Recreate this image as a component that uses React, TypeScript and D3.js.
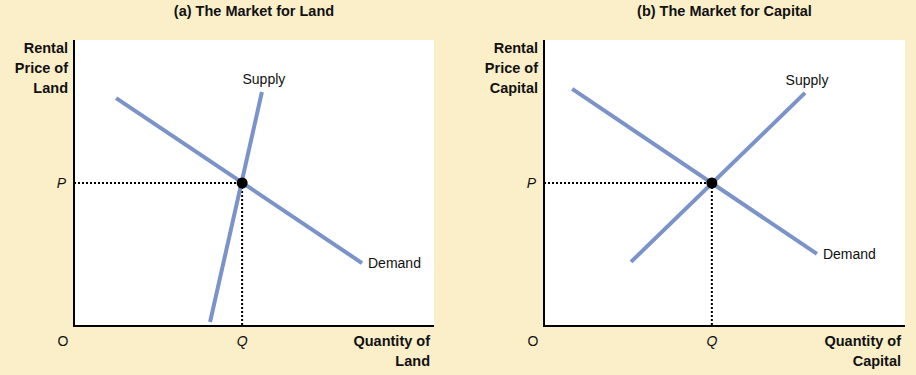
import * as d3 from 'd3';

// value space: 0..100 on both axes
const panelTitles = ['(a) The Market for Land', '(b) The Market for Capital'];
const yAxisLabels = [['Rental', 'Price of', 'Land'], ['Rental', 'Price of', 'Capital']];
const xAxisLabels = [['Quantity of', 'Land'], ['Quantity of', 'Capital']];

const landDemand: [number, number][] = [[11.7, 79.7], [80, 22]];
const landSupply: [number, number][] = [[37.8, 1.4], [52.2, 81.8]];
const landEq: [number, number] = [46.7, 50];

const capitalDemand: [number, number][] = [[7.8, 82.9], [75.6, 25.2]];
const capitalSupply: [number, number][] = [[24.1, 22.4], [72.3, 81.5]];
const capitalEq: [number, number] = [46.5, 50];

const W = 916;
const H = 375;
const BG = '#fbefc9';
const LINE = '#7b93c9';

interface PanelProps {
  idx: number;
  left: number;
  right: number;
  demand: [number, number][];
  supply: [number, number][];
  eq: [number, number];
}

function Panel({ idx, left, right, demand, supply, eq }: PanelProps) {
  const top = 40;
  const bottom = 326;
  const x = d3.scaleLinear().domain([0, 100]).range([left, right]);
  const y = d3.scaleLinear().domain([0, 100]).range([bottom, top]);
  const line = d3.line<[number, number]>().x(d => x(d[0])).y(d => y(d[1]));

  const ex = x(eq[0]);
  const ey = y(eq[1]);
  const supplyTop = supply[1];
  const demandEnd = demand[1];

  return (
    <g fontFamily="'Liberation Sans', Arial, sans-serif">
      <text x={(left + right) / 2} y={16} textAnchor="middle" fontWeight="bold" fontSize={14.5} fill="#111">
        {panelTitles[idx]}
      </text>
      <rect x={left} y={top} width={right - left} height={bottom - top} fill="#fff" />

      {yAxisLabels[idx].map((t, i) => (
        <text key={t} x={left - 6} y={53 + i * 20} textAnchor="end" fontWeight="bold" fontSize={14.5} fill="#111">
          {t}
        </text>
      ))}
      {xAxisLabels[idx].map((t, i) => (
        <text key={t} x={right - 4} y={346 + i * 20} textAnchor="end" fontWeight="bold" fontSize={14.5} fill="#111">
          {t}
        </text>
      ))}

      {/* dotted guides */}
      <line x1={left} x2={ex} y1={ey} y2={ey} stroke="#000" strokeWidth={2} strokeDasharray="2,2" />
      <line x1={ex} x2={ex} y1={ey} y2={bottom} stroke="#000" strokeWidth={2} strokeDasharray="2,2" />

      <path d={line(demand) ?? ''} stroke={LINE} strokeWidth={4} fill="none" />
      <path d={line(supply) ?? ''} stroke={LINE} strokeWidth={4} fill="none" />
      <circle cx={ex} cy={ey} r={5.5} fill="#000" />

      {/* axes */}
      <line x1={left} x2={left} y1={top} y2={bottom + 1} stroke="#000" strokeWidth={2} />
      <line x1={left} x2={right} y1={bottom} y2={bottom} stroke="#000" strokeWidth={2} />

      <text x={x(supplyTop[0]) + 2} y={y(supplyTop[1]) - 8} textAnchor="middle" fontSize={14} fill="#111">
        Supply
      </text>
      <text x={x(demandEnd[0]) + 6} y={y(demandEnd[1]) + 5} fontSize={14} fill="#111">
        Demand
      </text>
      <text x={left - 8} y={ey + 5} textAnchor="end" fontStyle="italic" fontSize={14} fill="#111">P</text>
      <text x={ex} y={346} textAnchor="middle" fontStyle="italic" fontSize={14} fill="#111">Q</text>
      <text x={left - 11} y={346} textAnchor="middle" fontSize={14} fill="#111">O</text>
    </g>
  );
}

export default function App() {
  return (
    <svg width={W} height={H} style={{ position: 'absolute', left: 0, top: 0 }}>
      <rect width={W} height={H} fill={BG} />
      <Panel idx={0} left={74} right={434} demand={landDemand} supply={landSupply} eq={landEq} />
      <Panel idx={1} left={544} right={905} demand={capitalDemand} supply={capitalSupply} eq={capitalEq} />
    </svg>
  );
}
